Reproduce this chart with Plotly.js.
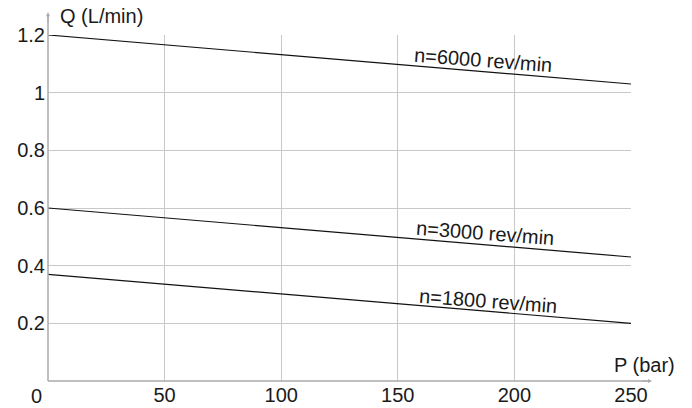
<!DOCTYPE html>
<html>
<head>
<meta charset="utf-8">
<script src="https://cdn.plot.ly/plotly-3.0.1.min.js"></script>
<style>html,body{margin:0;padding:0;background:#fff;}#chart{width:692px;height:408px;}</style>
</head>
<body>
<div id="chart"></div>
<script>
const pressure = [0, 250];
const q6000 = [1.2, 1.03];
const q3000 = [0.6, 0.43];
const q1800 = [0.37, 0.2];
const seriesLabels = ["n=6000 rev/min", "n=3000 rev/min", "n=1800 rev/min"];
const labelPos = [[186.5, 1.113], [187.4, 0.513], [188.7, 0.279]];
const xTicks = [50, 100, 150, 200, 250];
const yTicks = [0.2, 0.4, 0.6, 0.8, 1, 1.2];

const font = {family: "Liberation Sans, Arial, sans-serif", size: 20, color: "#1a1a1a"};
const lineStyle = {color: "#111", width: 1.2};
const traces = [q6000, q3000, q1800].map(q => ({
  x: pressure, y: q, type: "scatter", mode: "lines", line: lineStyle, hoverinfo: "skip"
}));

const annotations = seriesLabels.map((t, i) => ({
  x: labelPos[i][0], y: labelPos[i][1], xref: "x", yref: "y", text: t,
  showarrow: false, textangle: 4.3, font: font, xanchor: "center", yanchor: "middle"
}));
annotations.push(
  {x: 0.017, y: 1.055, xref: "paper", yref: "paper", text: "Q (L/min)", showarrow: false, xanchor: "left", yanchor: "middle", font: font},
  {x: 0.967, y: 0.046, xref: "paper", yref: "paper", text: "P (bar)", showarrow: false, xanchor: "left", yanchor: "middle", font: font},
  {x: -0.019, y: -0.043, xref: "paper", yref: "paper", text: "0", showarrow: false, xanchor: "center", yanchor: "middle", font: font},
  {x: 1.036, y: 0, xref: "paper", yref: "paper", text: "", showarrow: true, ax: -12, ay: 0, arrowhead: 2, arrowsize: 0.8, arrowwidth: 1, arrowcolor: "#aaa"},
  {x: 0, y: 1.066, xref: "paper", yref: "paper", text: "", showarrow: true, ax: 0, ay: 12, arrowhead: 2, arrowsize: 0.8, arrowwidth: 1, arrowcolor: "#aaa"}
);

const layout = {
  width: 692, height: 408,
  margin: {l: 48, r: 61, t: 35, b: 27},
  paper_bgcolor: "#fff", plot_bgcolor: "#fff",
  showlegend: false,
  font: font,
  xaxis: {range: [0, 250], tickvals: xTicks, showline: false, zeroline: false,
          gridcolor: "#c8c8c8", gridwidth: 1, ticks: "", tickfont: font, fixedrange: true},
  yaxis: {range: [0, 1.2], tickvals: yTicks, showline: false, zeroline: false,
          gridcolor: "#c8c8c8", gridwidth: 1, ticks: "", tickfont: font, ticklabelstandoff: 2, fixedrange: true},
  shapes: [
    {type: "line", xref: "paper", yref: "paper", x0: 0, x1: 1.03, y0: 0, y1: 0, line: {color: "#aaa", width: 1.5}},
    {type: "line", xref: "paper", yref: "paper", x0: 0, x1: 0, y0: 0, y1: 1.06, line: {color: "#aaa", width: 1.5}}
  ],
  annotations: annotations
};
Plotly.newPlot("chart", traces, layout, {displayModeBar: false, staticPlot: true});
</script>
</body>
</html>
